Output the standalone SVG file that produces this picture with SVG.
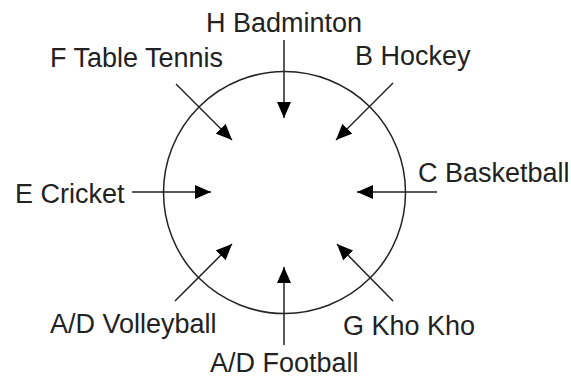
<svg xmlns="http://www.w3.org/2000/svg" width="571" height="377" viewBox="0 0 571 377">
<style>
.lbl{font-family:"Liberation Sans",Arial,sans-serif;font-size:27px;fill:#222}
.c{stroke:#222;stroke-width:1.5;fill:none}
.ar{stroke:#222;stroke-width:1.5;fill:none;marker-end:url(#ah)}
</style>
<defs>
<marker id="ah" viewBox="0 0 16 14" refX="16" refY="7" markerWidth="16" markerHeight="14" markerUnits="userSpaceOnUse" orient="auto">
<path d="M0,0 L16,7 L0,14 z" fill="#000"/>
</marker>
</defs>
<rect width="571" height="377" fill="#fff"/>
<g id="circle"><circle class="c" cx="284.5" cy="192.5" r="121"/></g>
<g id="connectors">
<line class="ar" x1="284" y1="40" x2="284" y2="118"/>
<line class="ar" x1="176" y1="84" x2="232" y2="140"/>
<line class="ar" x1="393" y1="83" x2="336" y2="140"/>
<line class="ar" x1="437" y1="192" x2="357" y2="192"/>
<line class="ar" x1="132" y1="192" x2="211" y2="192"/>
<line class="ar" x1="175" y1="301" x2="232" y2="244"/>
<line class="ar" x1="284" y1="345" x2="284" y2="267"/>
<line class="ar" x1="393" y1="301" x2="337" y2="244"/>
</g>
<g id="nH"><text class="lbl" x="206" y="32">H Badminton</text></g>
<g id="nF"><text class="lbl" x="50" y="67">F Table Tennis</text></g>
<g id="nB"><text class="lbl" x="355" y="65">B Hockey</text></g>
<g id="nC"><text class="lbl" x="418" y="182">C Basketball</text></g>
<g id="nE"><text class="lbl" x="15" y="203">E Cricket</text></g>
<g id="nAV"><text class="lbl" x="50" y="333">A/D Volleyball</text></g>
<g id="nAF"><text class="lbl" x="210" y="372">A/D Football</text></g>
<g id="nG"><text class="lbl" x="343" y="335">G Kho Kho</text></g>
</svg>
